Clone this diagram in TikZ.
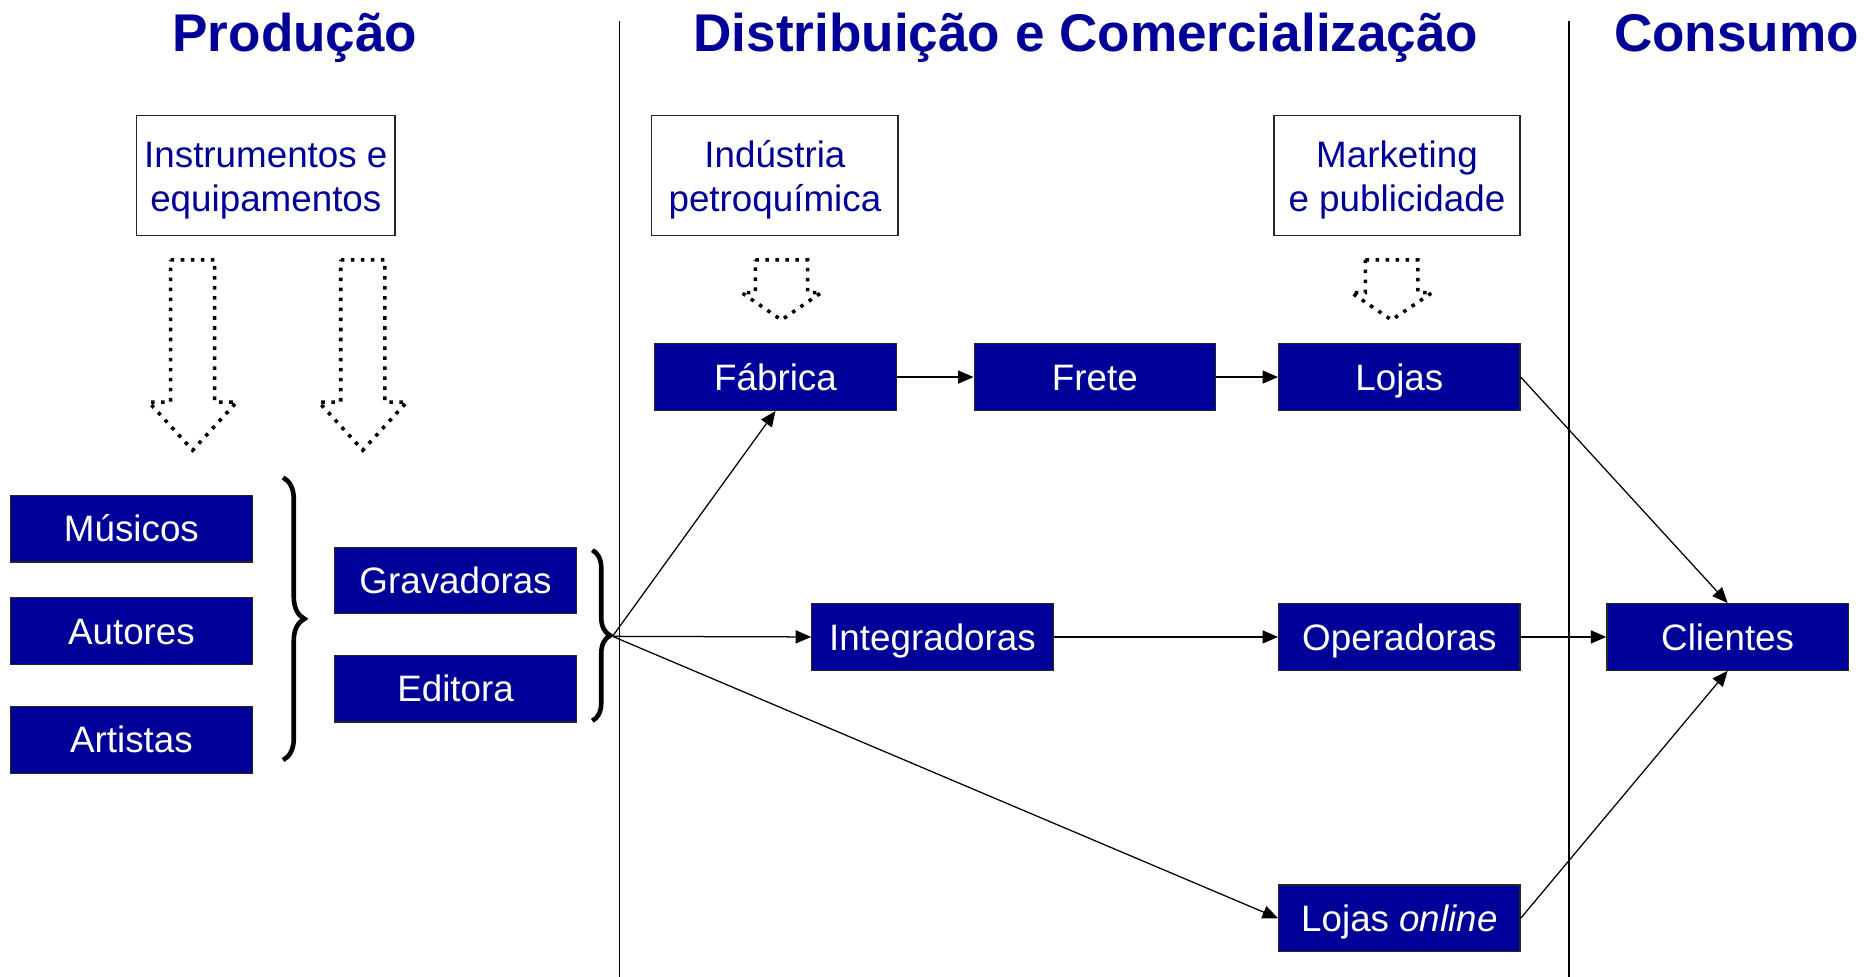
\documentclass[tikz,border=0pt]{standalone}
\usepackage{fontspec}
\setmainfont{Liberation Sans}
\usepackage{xcolor}
\usepackage{tikz}
\usetikzlibrary{arrows.meta,decorations.pathreplacing}
\definecolor{azul}{RGB}{0,0,153}
\newcommand\alto{\rule{0pt}{17pt}}
\newcommand\fatarrow[6]{%
  \draw[dotline] ({#1-#5},#2) -- ({#1+#5},#2) -- ({#1+#5},#3) -- ({#1+#6},#3)
    -- (#1,#4) -- ({#1-#6},#3) -- ({#1-#5},#3) -- cycle;}
\tikzset{
  bloco/.style={draw=black!85, line width=0.6pt, fill=azul, text=white,
    minimum width=4.06cm, minimum height=1.12cm, inner sep=0pt,
    text height=12.6pt, text depth=0pt, font=\fontsize{17.6}{21}\selectfont},
  fonte/.style={draw=black!85, line width=0.6pt, fill=white, text=azul,
    minimum height=2.02cm, inner sep=0pt, align=center,
    font=\fontsize{17.6}{21}\selectfont},
  titulo/.style={text=azul, anchor=base, font=\fontsize{25.4}{30}\selectfont\bfseries},
  dotline/.style={line width=1.7pt, dash pattern=on 1.7pt off 3.1pt},
  chave/.style={decorate, decoration={brace, amplitude=#1}, line width=2.2pt},
}

\begin{document}
\begin{tikzpicture}[>={Triangle[length=0.26cm,width=0.22cm]}, line width=0.6pt]
    \useasboundingbox (0,0) rectangle (31.36,-16.42);

    \coordinate (Prod) at (4.96, -0.86);
    \coordinate (Dist) at (18.26, -0.86);
    \coordinate (Cons) at (29.2, -0.86);
    \coordinate (Lt) at (10.42, -0.36);
    \coordinate (Lb) at (10.42, -16.42);
    \coordinate (Rt) at (26.38, -0.36);
    \coordinate (Rb) at (26.38, -16.42);

    \coordinate (Inst) at (4.47, -2.95);
    \coordinate (Ind) at (13.03, -2.95);
    \coordinate (Mkt) at (23.49, -2.95);

    \coordinate (Fab) at (13.04, -6.34);
    \coordinate (Fre) at (18.41, -6.34);
    \coordinate (Loj) at (23.53, -6.34);
    \coordinate (Mus) at (2.21, -8.89);
    \coordinate (Aut) at (2.21, -10.61);
    \coordinate (Art) at (2.21, -12.44);
    \coordinate (Grav) at (7.66, -9.76);
    \coordinate (Edit) at (7.66, -11.58);
    \coordinate (Int) at (15.68, -10.71);
    \coordinate (Op) at (23.53, -10.71);
    \coordinate (Cli) at (29.05, -10.71);
    \coordinate (Onl) at (23.53, -15.44);

    \coordinate (Cat) at (4.76, -8.03);
    \coordinate (Cab) at (4.76, -12.78);
    \coordinate (Cbt) at (9.96, -9.25);
    \coordinate (Cbb) at (9.96, -12.12);
    \coordinate (Bt) at (10.3, -10.7);

    \node[titulo] (prod) at (Prod) {Produção};
    \node[titulo] (dist) at (Dist) {Distribuição e Comercialização};
    \node[titulo] (cons) at (Cons) {Consumo};

    \draw[line width=0.7pt] (Lt) -- (Lb);
    \draw[line width=0.7pt] (Rt) -- (Rb);

    \node[fonte, minimum width=4.34cm] (inst) at (Inst) {\alto Instrumentos e\\equipamentos};
    \node[fonte, minimum width=4.14cm] (ind) at (Ind) {\alto Indústria\\petroquímica};
    \node[fonte, minimum width=4.14cm] (mkt) at (Mkt) {\alto Marketing\\e publicidade};

    \fatarrow{3.24}{-4.37}{-6.76}{-7.57}{0.37}{0.74}
    \fatarrow{6.1}{-4.37}{-6.76}{-7.57}{0.37}{0.74}
    \fatarrow{13.14}{-4.37}{-4.92}{-5.38}{0.44}{0.67}
    \fatarrow{23.4}{-4.37}{-4.92}{-5.38}{0.44}{0.68}

    \node[bloco] (fab) at (Fab) {Fábrica};
    \node[bloco] (fre) at (Fre) {Frete};
    \node[bloco] (loj) at (Loj) {Lojas};
    \node[bloco] (mus) at (Mus) {Músicos};
    \node[bloco] (aut) at (Aut) {Autores};
    \node[bloco] (art) at (Art) {Artistas};
    \node[bloco] (grav) at (Grav) {Gravadoras};
    \node[bloco] (edit) at (Edit) {Editora};
    \node[bloco] (int) at (Int) {Integradoras};
    \node[bloco] (op) at (Op) {Operadoras};
    \node[bloco] (cli) at (Cli) {Clientes};
    \node[bloco] (onl) at (Onl) {Lojas \textit{online}};

    \draw[chave=0.36cm] (Cat) -- (Cab);
    \draw[chave=0.3cm] (Cbt) -- (Cbb);

    \draw[->] (Bt) -- (fab.south);
    \draw[->] (Bt) -- (int.west);
    \draw[->] (Bt) -- (onl.west);
    \draw[->] (fab) -- (fre);
    \draw[->] (fre) -- (loj);
    \draw[->] (int) -- (op);
    \draw[->] (op) -- (cli);
    \draw[->] (loj.east) -- (cli.north);
    \draw[->] (onl.east) -- (cli.south);
  \end{tikzpicture}
\end{document}
